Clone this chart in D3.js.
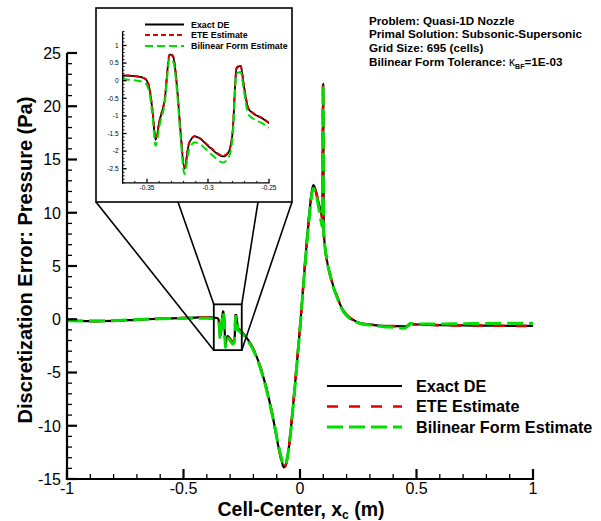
<!DOCTYPE html>
<html>
<head>
<meta charset="utf-8">
<script src="https://cdn.jsdelivr.net/npm/d3@7"></script>
<style>
  html, body { margin: 0; padding: 0; background: #fff; }
  svg { display: block; font-family: "Liberation Sans", Arial, Helvetica, sans-serif; }
</style>
</head>
<body>
<svg id="chart" width="601" height="521"></svg>
<script>
// Cell-center locations (m)
const xCenter = [
  -1.0, -0.95, -0.9, -0.8, -0.7, -0.6, -0.5, -0.45, -0.4, -0.38,
  -0.371, -0.365, -0.358, -0.353, -0.3505, -0.348, -0.3455, -0.343, -0.3396, -0.3355,
  -0.3314, -0.3286, -0.3253, -0.3226, -0.3193, -0.3155, -0.3108, -0.3067, -0.2985, -0.2875,
  -0.2834, -0.2799, -0.2766, -0.2733, -0.2705, -0.267, -0.2629, -0.256, -0.25,
  -0.23, -0.21, -0.19, -0.17, -0.15, -0.13, -0.11, -0.095, -0.08, -0.07,
  -0.06, -0.05, -0.04, -0.03, -0.02, -0.01, 0.0, 0.01, 0.02, 0.03,
  0.04, 0.05, 0.057, 0.065, 0.075, 0.085, 0.092, 0.096, 0.099, 0.102,
  0.105, 0.11, 0.12, 0.13, 0.143, 0.16, 0.172, 0.19, 0.215, 0.24,
  0.258, 0.3, 0.356, 0.4, 0.45, 0.465, 0.472, 0.485, 0.52, 0.6,
  0.7, 0.8, 0.9, 1.0
];

// Discretization error in pressure (Pa)
const exactDE = [
  -0.1, -0.15, -0.18, -0.15, -0.05, 0.05, 0.12, 0.16, 0.19, 0.17,
  0.15, 0.14, 0.12, 0.08, 0.02, -0.22, -0.85, -1.68, -1.12, -0.55,
  0.75, 0.68, -0.22, -1.41, -2.5, -1.78, -1.58, -1.64, -1.9, -2.15,
  -2.05, -1.5, 0.35, 0.42, -0.17, -0.79, -0.93, -1.06, -1.2,
  -1.7, -2.4, -3.3, -4.5, -6.0, -7.8, -9.9, -11.7, -13.2, -13.9,
  -13.6, -12.4, -10.5, -8.2, -5.8, -3.3, -0.8, 2.0, 4.8, 7.5,
  9.9, 11.9, 12.6, 12.3, 11.4, 10.5, 9.9, 9.4, 22.1, 8.2,
  7.3, 6.3, 5.0, 4.1, 3.1, 2.1, 1.4, 0.7, 0.12, -0.2,
  -0.35, -0.5, -0.62, -0.65, -0.66, -0.62, -0.42, -0.46, -0.5, -0.55,
  -0.58, -0.6, -0.62, -0.63
];

const eteEstimate = [
  -0.1, -0.15, -0.18, -0.15, -0.05, 0.05, 0.12, 0.16, 0.19, 0.17,
  0.16, 0.15, 0.12, 0.08, 0.03, -0.2, -0.82, -1.62, -1.1, -0.52,
  0.77, 0.7, -0.2, -1.38, -2.45, -1.76, -1.57, -1.63, -1.88, -2.13,
  -2.03, -1.47, 0.37, 0.44, -0.15, -0.77, -0.92, -1.05, -1.19,
  -1.7, -2.4, -3.3, -4.5, -6.0, -7.8, -9.9, -11.7, -13.2, -13.95,
  -13.6, -12.4, -10.5, -8.2, -5.8, -3.3, -0.8, 2.0, 4.8, 7.5,
  9.9, 11.8, 12.5, 12.2, 11.4, 10.5, 9.9, 9.4, 22.0, 8.2,
  7.3, 6.3, 5.0, 4.1, 3.1, 2.1, 1.4, 0.7, 0.12, -0.2,
  -0.35, -0.5, -0.62, -0.65, -0.66, -0.62, -0.43, -0.46, -0.5, -0.55,
  -0.58, -0.6, -0.62, -0.63
];

const bilinearEstimate = [
  -0.12, -0.16, -0.17, -0.12, -0.02, 0.05, 0.08, 0.1, 0.1, 0.07,
  0.05, 0.03, 0.0, -0.04, -0.1, -0.35, -1.0, -1.85, -1.25, -0.65,
  0.62, 0.55, -0.35, -1.55, -2.65, -1.95, -1.75, -1.8, -2.05, -2.32,
  -2.2, -1.65, 0.2, 0.25, -0.3, -0.95, -1.08, -1.2, -1.33,
  -1.8, -2.5, -3.4, -4.6, -6.1, -7.9, -9.9, -11.6, -13.0, -13.7,
  -13.5, -12.4, -10.6, -8.3, -5.9, -3.4, -0.9, 1.9, 4.6, 7.2,
  9.6, 11.6, 12.3, 12.1, 11.1, 9.9, 9.0, 8.7, 22.0, 8.0,
  7.2, 6.3, 5.0, 4.1, 3.0, 2.0, 1.3, 0.6, 0.05, -0.25,
  -0.4, -0.55, -0.7, -0.75, -0.85, -0.55, -0.4, -0.42, -0.45, -0.45,
  -0.42, -0.4, -0.38, -0.37
];

const seriesNames = ["Exact DE", "ETE Estimate", "Bilinear Form Estimate"];
const seriesValues = [exactDE, eteEstimate, bilinearEstimate];

const xTicks = [-1, -0.5, 0, 0.5, 1];
const yTicks = [-15, -10, -5, 0, 5, 10, 15, 20, 25];
const xTickLabels = ["-1", "-0.5", "0", "0.5", "1"];
const yTickLabels = ["-15", "-10", "-5", "0", "5", "10", "15", "20", "25"];

const insetXDomain = [-0.37, -0.25];
const insetYDomain = [-2.9, 1.4];
const insetXTicks = [-0.35, -0.3, -0.25];
const insetXTickLabels = ["-0.35", "-0.3", "-0.25"];
const insetYTicks = [-2.5, -2, -1.5, -1, -0.5, 0, 0.5, 1];
const insetYTickLabels = ["-2.5", "-2", "-1.5", "-1", "-0.5", "0", "0.5", "1"];

const infoLines = [
  "Problem: Quasi-1D Nozzle",
  "Primal Solution: Subsonic-Supersonic",
  "Grid Size: 695 (cells)"
];

// ---- drawing ----
const svg = d3.select("#chart");
const plot = { left: 67, right: 533, top: 53, bottom: 479 };

const x = d3.scaleLinear().domain([-1, 1]).range([plot.left, plot.right]);
const y = d3.scaleLinear().domain([-15, 25]).range([plot.bottom, plot.top]);

const mainStyles = [
  { color: "#000000", width: 2.2, dash: null },
  { color: "#e00000", width: 2.6, dash: "11,11" },
  { color: "#00dd00", width: 3, dash: "16,6" }
];
const insetStyles = [
  { color: "#000000", width: 1.8, dash: null },
  { color: "#e00000", width: 1.9, dash: "5,3" },
  { color: "#00dd00", width: 2, dash: "8,4" }
];

const defs = svg.append("defs");
defs.append("clipPath").attr("id", "mainClip")
  .append("rect").attr("x", plot.left).attr("y", plot.top - 2)
  .attr("width", plot.right - plot.left).attr("height", plot.bottom - plot.top + 2);

function seriesPoints(vals) {
  return xCenter.map((xc, i) => [xc, vals[i]]);
}

// main curves
const mainLine = d3.line().x(d => x(d[0])).y(d => y(d[1])).curve(d3.curveMonotoneX);
const curves = svg.append("g").attr("clip-path", "url(#mainClip)");
seriesValues.forEach((vals, i) => {
  curves.append("path")
    .attr("d", mainLine(seriesPoints(vals)))
    .attr("fill", "none")
    .attr("stroke", mainStyles[i].color)
    .attr("stroke-width", mainStyles[i].width)
    .attr("stroke-dasharray", mainStyles[i].dash)
    .attr("stroke-linejoin", "round");
});

// axes with inward major and minor ticks
function drawAxis(g, opts) {
  const { scale, major, labels, minor, orient, majorLen, minorLen, pad, fontSize, lineW } = opts;
  const [r0, r1] = scale.range();
  if (orient === "bottom") {
    const y0 = opts.at;
    g.append("line").attr("x1", r0 - lineW / 2).attr("x2", r1 + lineW / 2).attr("y1", y0).attr("y2", y0)
      .attr("stroke", "#000").attr("stroke-width", lineW);
    minor.forEach(v => g.append("line").attr("x1", scale(v)).attr("x2", scale(v))
      .attr("y1", y0).attr("y2", y0 - minorLen).attr("stroke", "#000").attr("stroke-width", opts.tickW));
    major.forEach((v, i) => {
      g.append("line").attr("x1", scale(v)).attr("x2", scale(v))
        .attr("y1", y0).attr("y2", y0 - majorLen).attr("stroke", "#000").attr("stroke-width", lineW);
      g.append("text").attr("x", scale(v)).attr("y", y0 + pad).attr("text-anchor", "middle")
        .attr("font-size", fontSize).text(labels[i]);
    });
  } else {
    const x0 = opts.at;
    g.append("line").attr("x1", x0).attr("x2", x0).attr("y1", r0 + lineW / 2).attr("y2", r1)
      .attr("stroke", "#000").attr("stroke-width", lineW);
    minor.forEach(v => g.append("line").attr("y1", scale(v)).attr("y2", scale(v))
      .attr("x1", x0).attr("x2", x0 + minorLen).attr("stroke", "#000").attr("stroke-width", opts.tickW));
    major.forEach((v, i) => {
      g.append("line").attr("y1", scale(v)).attr("y2", scale(v))
        .attr("x1", x0).attr("x2", x0 + majorLen).attr("stroke", "#000").attr("stroke-width", lineW);
      g.append("text").attr("x", x0 - pad).attr("y", scale(v)).attr("dy", "0.36em")
        .attr("text-anchor", "end").attr("font-size", fontSize).text(labels[i]);
    });
  }
}

const xMinor = d3.range(-10, 11).map(k => k / 10).filter(v => Math.abs(v * 2 - Math.round(v * 2)) > 1e-6);
const yMinor = d3.range(-15, 26).filter(v => v % 5 !== 0);

drawAxis(svg.append("g"), { scale: x, major: xTicks, labels: xTickLabels, minor: xMinor, orient: "bottom",
  at: plot.bottom, majorLen: 10, minorLen: 5, pad: 15, fontSize: 16, lineW: 2.2, tickW: 1.3 });
drawAxis(svg.append("g"), { scale: y, major: yTicks, labels: yTickLabels, minor: yMinor, orient: "left",
  at: plot.left, majorLen: 10, minorLen: 5, pad: 6, fontSize: 16, lineW: 2.2, tickW: 1.3 });

// axis titles
const xTitle = svg.append("text").attr("x", 301).attr("y", 516).attr("text-anchor", "middle")
  .attr("font-size", 19.5).attr("font-weight", "bold");
xTitle.append("tspan").text("Cell-Center, x");
xTitle.append("tspan").attr("font-size", 12).attr("dy", 2.5).text("c");
xTitle.append("tspan").attr("dy", -2.5).text(" (m)");

svg.append("text").attr("transform", "translate(32,260) rotate(-90)").attr("text-anchor", "middle")
  .attr("font-size", 20).attr("font-weight", "bold").text("Discretization Error: Pressure (Pa)");

// zoom region and connectors
const rx0 = x(insetXDomain[0]), rx1 = x(insetXDomain[1]);
const ry0 = y(insetYDomain[1]), ry1 = y(insetYDomain[0]);
const box = { left: 96, right: 292, top: 8, bottom: 202 };
const connectors = [
  [box.left, box.bottom, rx0, ry1],
  [178, box.bottom, rx0, ry0],
  [258, box.bottom, rx1, ry0],
  [box.right, box.bottom, rx1, ry1]
];
connectors.forEach(c => svg.append("line")
  .attr("x1", c[0]).attr("y1", c[1]).attr("x2", c[2]).attr("y2", c[3])
  .attr("stroke", "#000").attr("stroke-width", 1.6));
svg.append("rect").attr("x", rx0).attr("y", ry0).attr("width", rx1 - rx0).attr("height", ry1 - ry0)
  .attr("fill", "none").attr("stroke", "#000").attr("stroke-width", 1.8);

// inset frame
svg.append("rect").attr("x", box.left).attr("y", box.top)
  .attr("width", box.right - box.left).attr("height", box.bottom - box.top)
  .attr("fill", "#fff").attr("stroke", "#000").attr("stroke-width", 1.6);

const ix = d3.scaleLinear().domain(insetXDomain).range([122.6, 269]);
const iy = d3.scaleLinear().domain(insetYDomain).range([182.8, 31.4]);

defs.append("clipPath").attr("id", "insetClip")
  .append("rect").attr("x", 122.6).attr("y", 31.4).attr("width", 269 - 122.6).attr("height", 182.8 - 31.4);

const insetLine = d3.line().x(d => ix(d[0])).y(d => iy(d[1])).curve(d3.curveMonotoneX);
const insetCurves = svg.append("g").attr("clip-path", "url(#insetClip)");
seriesValues.forEach((vals, i) => {
  const pts = seriesPoints(vals).filter(p => p[0] >= -0.4 && p[0] <= -0.23);
  insetCurves.append("path")
    .attr("d", insetLine(pts))
    .attr("fill", "none")
    .attr("stroke", insetStyles[i].color)
    .attr("stroke-width", insetStyles[i].width)
    .attr("stroke-dasharray", insetStyles[i].dash)
    .attr("stroke-linejoin", "round");
});

const ixMinor = d3.range(-37, -24).map(k => k / 100).filter(v => !insetXTicks.some(t => Math.abs(t - v) < 1e-6));
const iyMinor = d3.range(-29, 15).map(k => k / 10).filter(v => !insetYTicks.some(t => Math.abs(t - v) < 1e-6));

drawAxis(svg.append("g"), { scale: ix, major: insetXTicks, labels: insetXTickLabels, minor: ixMinor, orient: "bottom",
  at: 182.8, majorLen: 4, minorLen: 2, pad: 7, fontSize: 6.5, lineW: 1.3, tickW: 0.9 });
drawAxis(svg.append("g"), { scale: iy, major: insetYTicks, labels: insetYTickLabels, minor: iyMinor, orient: "left",
  at: 122.6, majorLen: 4, minorLen: 2, pad: 4, fontSize: 6.5, lineW: 1.3, tickW: 0.9 });

// inset legend
const insetLegendY = [24.5, 35, 46];
seriesNames.forEach((name, i) => {
  svg.append("line").attr("x1", 145).attr("x2", 184).attr("y1", insetLegendY[i]).attr("y2", insetLegendY[i])
    .attr("stroke", insetStyles[i].color).attr("stroke-width", insetStyles[i].width)
    .attr("stroke-dasharray", insetStyles[i].dash);
  svg.append("text").attr("x", 191).attr("y", insetLegendY[i]).attr("dy", "0.35em")
    .attr("font-size", 8.9).attr("font-weight", "bold").text(name);
});

// main legend
const legendY = [386, 406.5, 427];
seriesNames.forEach((name, i) => {
  svg.append("line").attr("x1", 327).attr("x2", 402).attr("y1", legendY[i]).attr("y2", legendY[i])
    .attr("stroke", mainStyles[i].color).attr("stroke-width", mainStyles[i].width)
    .attr("stroke-dasharray", mainStyles[i].dash);
  svg.append("text").attr("x", 416).attr("y", legendY[i]).attr("dy", "0.36em")
    .attr("font-size", 16.2).attr("font-weight", "bold").text(name);
});

// problem description
const infoY = [24.5, 38.2, 51.9, 65.6];
infoLines.forEach((t, i) => {
  svg.append("text").attr("x", 369).attr("y", infoY[i]).attr("font-size", 11.7).attr("font-weight", "bold").text(t);
});
const tol = svg.append("text").attr("x", 369).attr("y", infoY[3]).attr("font-size", 11.7).attr("font-weight", "bold");
tol.append("tspan").text("Bilinear Form Tolerance: ");
tol.append("tspan").attr("font-weight", "normal").attr("font-size", 12).text("κ");
tol.append("tspan").attr("font-size", 7).attr("dy", 3).text("BF");
tol.append("tspan").attr("dy", -3).text("=1E-03");
</script>
</body>
</html>
